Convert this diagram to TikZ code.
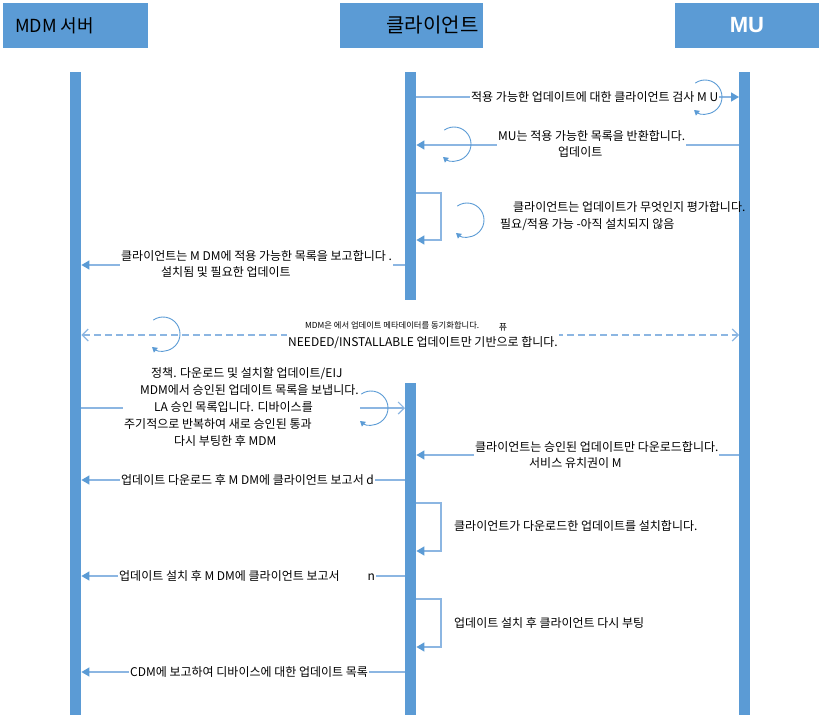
\documentclass[tikz,border=0pt]{standalone}
\usepackage{fontspec}
\setmainfont{Noto Sans CJK KR}
\newfontfamily\mufont{Liberation Sans}
\usetikzlibrary{arrows.meta}
\definecolor{barblue}{HTML}{5B9BD5}
\definecolor{lineblue}{RGB}{140,182,226}
\pgfdeclarelayer{bg}
\pgfsetlayers{bg,main}
\begin{document}
\begin{tikzpicture}[x=1pt,y=-1pt,
 hdr/.style={fill=barblue, draw=none, minimum height=45pt, inner sep=0pt},
 actbar/.style={fill=barblue, draw=none, minimum width=11pt, inner sep=0pt, anchor=north west},
 lbl/.style={font=\fontsize{12}{16.8}\selectfont, inner sep=1pt, align=left, anchor=west},
 lblw/.style={lbl, fill=white},
 msg/.style={draw=lineblue, line width=1.4pt},
 fillhead/.style={-{Triangle[length=8pt,width=9pt,color=barblue]}},
 openhead/.style={-{Straight Barb[length=6pt,width=12pt,line width=1.2pt]}},
 openboth/.style={{Straight Barb[length=6pt,width=12pt,line width=1.2pt]}-{Straight Barb[length=6pt,width=12pt,line width=1.2pt]}},
 cyc/.style={draw=barblue, line width=0.9pt, -{Triangle[length=5pt,width=6pt]}}
]
\useasboundingbox (0,0) rectangle (819,715);

% headers
\node[hdr, minimum width=145pt, font=\fontsize{18}{20}\selectfont] (hmdm) at (75.5,25.5) {MDM 서버\hspace*{42pt}};
\node[hdr, minimum width=143pt, font=\fontsize{20}{22}\selectfont] (hcl) at (411.5,25.5) {\hspace*{42pt}클라이언트};
\node[hdr, minimum width=144pt, text=white, font=\mufont\bfseries\fontsize{22}{24}\selectfont] (hmu) at (747,25.5) {MU};

% activation bars
\node[actbar, minimum height=643pt] (bmdm) at (70,72) {};
\node[actbar, minimum height=228pt] (bcl1) at (405,72) {};
\node[actbar, minimum height=332pt] (bcl2) at (405,383) {};
\node[actbar, minimum height=643pt] (bmu) at (739,72) {};

% labels
\node[lblw] (l1) at (470,97) {적용 가능한 업데이트에 대한 클라이언트 검사 M U};
\node[lblw] (l2) at (497,144) {MU는 적용 가능한 목록을 반환합니다.\\\hspace*{60pt}업데이트};
\node[lbl] (l3) at (499,216) {\hspace*{13pt}클라이언트는 업데이트가 무엇인지 평가합니다.\\필요/적용 가능 -아직 설치되지 않음};
\node[lblw] (l4) at (120,264) {클라이언트는 M DM에 적용 가능한 목록을 보고합니다 .\\\hspace*{40pt}설치됨 및 필요한 업데이트};
\node[font=\fontsize{8.3}{9}\selectfont, inner sep=0pt, anchor=west] (l5a) at (305,325) {MDM은 에서 업데이트 메타데이터를 동기화합니다.};
\node[font=\fontsize{9}{10}\selectfont, inner sep=0pt] (l5b) at (503,327) {퓨};
\node[lblw, inner ysep=3pt] (l5) at (287,343) {NEEDED/INSTALLABLE 업데이트만 기반으로 합니다.};
\node[lblw] (l6) at (123,407) {\hspace*{27pt}정책. 다운로드 및 설치할 업데이트/EIJ\\\hspace*{16pt}MDM에서 승인된 업데이트 목록을 보냅니다.\\\hspace*{30pt}LA 승인 목록입니다. 디바이스를\\주기적으로 반복하여 새로 승인된 통과\\\hspace*{50pt}다시 부팅한 후 MDM};
\node[lblw] (l7) at (474,455) {클라이언트는 승인된 업데이트만 다운로드합니다.\\\hspace*{54pt}서비스 유치권이 M};
\node[lblw] (l8) at (120,480) {업데이트 다운로드 후 M DM에 클라이언트 보고서 d};
\node[lbl] (l9) at (453,526) {클라이언트가 다운로드한 업데이트를 설치합니다.};
\node[lblw] (l10) at (118,576) {업데이트 설치 후 M DM에 클라이언트 보고서\hspace*{28pt}n};
\node[lbl] (l11) at (453,623) {업데이트 설치 후 클라이언트 다시 부팅};
\node[lblw] (l12) at (129,672) {CDM에 보고하여 디바이스에 대한 업데이트 목록};

% connectors
\begin{pgfonlayer}{bg}
\draw[msg, fillhead] (bcl1.east |- 0,97) -- (bmu.west |- 0,97);
\draw[msg, fillhead] (bmu.west |- 0,145) -- (bcl1.east |- 0,145);
\draw[msg, fillhead] (bcl1.east |- 0,193) -| (441,240) -- (bcl1.east |- 0,240);
\draw[msg, fillhead] (bcl1.west |- 0,265) -- (bmdm.east |- 0,265);
\draw[msg, openboth, dash pattern=on 7pt off 4pt] (bmdm.east |- 0,335) -- (bmu.west |- 0,335);
\draw[msg, openhead] (bmdm.east |- 0,408) -- (bcl2.west |- 0,408);
\draw[msg, fillhead] (bmu.west |- 0,455) -- (bcl2.east |- 0,455);
\draw[msg, fillhead] (bcl2.west |- 0,480) -- (bmdm.east |- 0,480);
\draw[msg, fillhead] (bcl2.east |- 0,503) -| (441,551) -- (bcl2.east |- 0,551);
\draw[msg, fillhead] (bcl2.west |- 0,576) -- (bmdm.east |- 0,576);
\draw[msg, fillhead] (bcl2.east |- 0,599) -| (441,647) -- (bcl2.east |- 0,647);
\draw[msg, fillhead] (bcl2.west |- 0,672) -- (bmdm.east |- 0,672);
\end{pgfonlayer}

% cycle marks
\draw[cyc] (705,97) ++(-125:17) arc[start angle=-125, end angle=130, radius=17];
\draw[cyc] (454,144) ++(-125:17) arc[start angle=-125, end angle=130, radius=17];
\draw[cyc] (467,220) ++(-125:17) arc[start angle=-125, end angle=130, radius=17];
\draw[cyc] (163,334) ++(-125:17) arc[start angle=-125, end angle=130, radius=17];
\draw[cyc] (371,408) ++(-125:17) arc[start angle=-125, end angle=130, radius=17];
\end{tikzpicture}
\end{document}
